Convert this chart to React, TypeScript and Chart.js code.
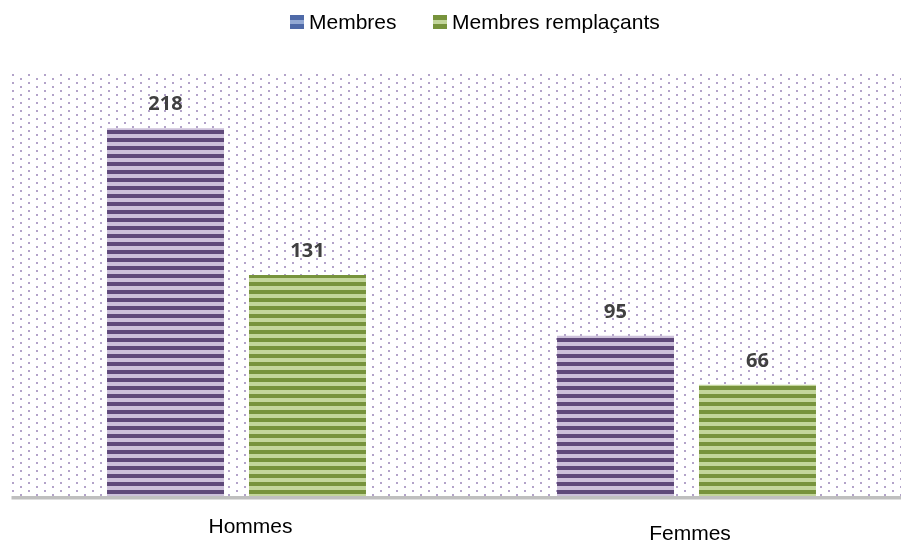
import React, { useEffect, useRef } from "react";
import { Chart, registerables } from "chart.js";

Chart.register(...registerables);

const categories = ["Hommes", "Femmes"];
const seriesNames = ["Membres", "Membres remplaçants"];
const membres = [218, 95];
const remplacants = [131, 66];
const yMax = 250;

function stripePattern(dark: string, light: string, phase: number): CanvasPattern | string {
  const c = document.createElement("canvas");
  c.width = 1;
  c.height = 8;
  const g = c.getContext("2d")!;
  g.fillStyle = light;
  g.fillRect(0, 0, 1, 8);
  g.fillStyle = dark;
  for (let i = 0; i < 4; i++) g.fillRect(0, (phase + i) % 8, 1, 1);
  const p = g.createPattern(c, "repeat");
  return p || dark;
}

const PURPLE_DARK = "#5f497a";
const PURPLE_LIGHT = "#ccc0da";
const GREEN_DARK = "#77933c";
const GREEN_LIGHT = "#c3d69b";

const decorPlugin = {
  id: "decor",
  beforeDatasetsDraw(chart: any) {
    const ctx = chart.ctx as CanvasRenderingContext2D;
    const a = chart.chartArea;
    ctx.save();
    // dotted background
    ctx.fillStyle = "#b3a3c9";
    const x0 = Math.floor(a.left);
    for (let y = 74; y <= 494; y += 4) {
      const off = y % 8 === 2 ? 12 : 4;
      const start = x0 + ((off - (x0 % 16)) + 16) % 16;
      for (let x = start; x < chart.width; x += 16) {
        ctx.fillRect(x, y, 2, 2);
      }
    }
    ctx.restore();
  },
  afterDatasetsDraw(chart: any) {
    const ctx = chart.ctx as CanvasRenderingContext2D;
    const a = chart.chartArea;
    ctx.save();
    // axis line
    ctx.fillStyle = "#bfbfbf";
    ctx.fillRect(a.left, a.bottom, chart.width - a.left, 3.5);

    // data labels
    ctx.font = "bold 20px 'Open Sans'";
    ctx.fillStyle = "#404040";
    ctx.textAlign = "center";
    ctx.textBaseline = "alphabetic";
    chart.data.datasets.forEach((ds: any, di: number) => {
      const meta = chart.getDatasetMeta(di);
      meta.data.forEach((el: any, i: number) => {
        ctx.fillText(String(ds.data[i]), el.x, el.y - 18);
      });
    });

    // category labels
    const xs = chart.scales.x;
    const labelShift = [
      { dx: 14, dy: 0 },
      { dx: 3.5, dy: 7 },
    ];
    ctx.font = "21px 'Liberation Sans'";
    ctx.fillStyle = "#000000";
    categories.forEach((c, i) => {
      const s = labelShift[i] || { dx: 0, dy: 0 };
      ctx.fillText(c, xs.getPixelForValue(i) + s.dx, a.bottom + 37 + s.dy);
    });

    // legend
    const legendItems = [
      { text: seriesNames[0], dark: "#4f6aa8", light: "#93a9d4", x: 290 },
      { text: seriesNames[1], dark: GREEN_DARK, light: GREEN_LIGHT, x: 433 },
    ];
    ctx.textAlign = "left";
    legendItems.forEach((it) => {
      ctx.fillStyle = it.dark;
      ctx.fillRect(it.x, 15, 14, 14);
      ctx.fillStyle = it.light;
      ctx.fillRect(it.x, 20, 14, 4);
      ctx.fillStyle = "#000000";
      ctx.fillText(it.text, it.x + 19, 29);
    });
    ctx.restore();
  },
};

export default function App() {
  const ref = useRef<HTMLCanvasElement | null>(null);
  useEffect(() => {
    if (!ref.current) return;
    const chart = new Chart(ref.current, {
      type: "bar",
      data: {
        labels: categories,
        datasets: [
          {
            label: seriesNames[0],
            data: membres,
            backgroundColor: stripePattern(PURPLE_DARK, PURPLE_LIGHT, 2) as any,
            borderWidth: 0,
            categoryPercentage: 0.631,
            barPercentage: 0.824,
          },
          {
            label: seriesNames[1],
            data: remplacants,
            backgroundColor: stripePattern(GREEN_DARK, GREEN_LIGHT, 2) as any,
            borderWidth: 0,
            categoryPercentage: 0.631,
            barPercentage: 0.824,
          },
        ],
      },
      options: {
        responsive: false,
        animation: false,
        devicePixelRatio: 1,
        layout: { padding: { left: 11.5, right: 3.5, top: 74.3, bottom: 45 } },
        plugins: { legend: { display: false }, tooltip: { enabled: false } },
        scales: {
          x: { display: false, offset: true, grid: { display: false } },
          y: { display: false, min: 0, max: yMax },
        },
      },
      plugins: [decorPlugin],
    });
    return () => chart.destroy();
  }, []);
  return (
    <div
      style={{
        position: "absolute",
        left: 0,
        top: 0,
        width: 901,
        height: 541,
        overflow: "hidden",
        background: "#ffffff",
      }}
    >
      <canvas ref={ref} width={915} height={541} style={{ display: "block" }} />
    </div>
  );
}
